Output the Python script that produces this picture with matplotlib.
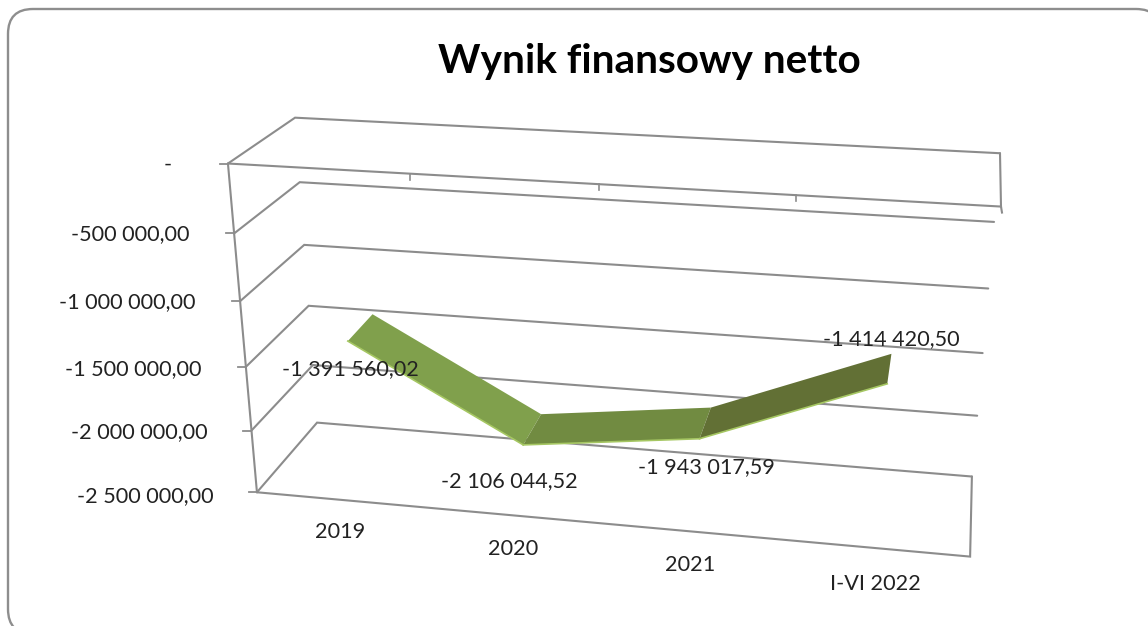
import matplotlib
matplotlib.use('Agg')
import matplotlib.pyplot as plt
from matplotlib.patches import FancyBboxPatch
import numpy as np

plt.rcParams['font.family'] = ['Lato', 'DejaVu Sans']

categories = ['2019', '2020', '2021', 'I-VI 2022']
values = [-1391560.02, -2106044.52, -1943017.59, -1414420.50]
value_labels = ['-1 391 560,02', '-2 106 044,52', '-1 943 017,59', '-1 414 420,50']
grid_values = [0, -500000, -1000000, -1500000, -2000000, -2500000]
grid_labels = ['-', '-500 000,00', '-1 000 000,00', '-1 500 000,00', '-2 000 000,00', '-2 500 000,00']
title = 'Wynik finansowy netto'

VMIN = -2500000
GREY = '#8c8c8c'
TEXT = '#222222'

# box corners on the picture, used to fit the camera: (x, value, depth) -> pixel
box_3d = [(0, 0, 0), (4, 0, 0), (0, VMIN, 0), (4, VMIN, 0),
          (0, 0, 1), (4, 0, 1), (0, VMIN, 1), (4, VMIN, 1)]
box_px = [(228, 163), (1001, 207), (257, 492), (970, 557),
          (295, 118), (1000, 153), (317, 423), (972, 476)]

def fit_camera():
    rows, rhs = [], []
    for (x, v, z), (u, w) in zip(box_3d, box_px):
        p = [x, v / 1e6, z, 1]
        rows.append(p + [0, 0, 0, 0] + [-u * c for c in p[:3]])
        rhs.append(u)
        rows.append([0, 0, 0, 0] + p + [-w * c for c in p[:3]])
        rhs.append(w)
    h = np.linalg.lstsq(np.array(rows, float), np.array(rhs, float), rcond=None)[0]
    return np.append(h, 1).reshape(3, 4)

cam = fit_camera()

def project(x, v, z):
    x, v, z = np.broadcast_arrays(np.asarray(x, float), np.asarray(v, float) / 1e6, np.asarray(z, float))
    p = np.stack([x, v, z, np.ones_like(x)])
    q = cam @ p.reshape(4, -1)
    return q[0] / q[2], q[1] / q[2]

fig = plt.figure(figsize=(11.48, 6.26), dpi=100)
ax = fig.add_axes([0, 0, 1, 1])
ax.set_xlim(0, 1148)
ax.set_ylim(626, 0)
ax.axis('off')

# frame runs past the right and bottom edge of the picture
ax.add_patch(FancyBboxPatch((8, 9), 1153, 625, boxstyle='round,pad=0,rounding_size=25',
                            fc='white', ec='#8e8e8e', lw=1.7))

def line(xs, vs, zs, lw=1.5):
    ax.plot(*project(xs, vs, zs), color=GREY, lw=lw, solid_capstyle='round', solid_joinstyle='miter')

# back wall and left wall gridlines
for g in grid_values:
    line([0, 0, 4], [g, g, g], [0, 1, 1])

line([0, 0], [0, VMIN], [0, 0])
line([0, 4, 4], [0, 0, 0], [0, 0, 1])
line([0, 4, 4], [VMIN, VMIN, VMIN], [0, 0, 1])

# right side of the top plane and its tick
rx, ry = project(4, 0, 0)
ax.plot([rx[0], rx[0] + 1], [ry[0], ry[0] + 6], color=GREY, lw=1.5)

# category ticks on the zero line
for i in range(1, 4):
    tx, ty = project(i, 0, 0)
    ax.plot([tx[0], tx[0]], [ty[0], ty[0] + 6], color=GREY, lw=1.2)

# value ticks
for g in grid_values:
    tx, ty = project(0, g, 0)
    ax.plot([tx[0] - 8, tx[0]], [ty[0], ty[0]], color=GREY, lw=1.3)

# ribbon
seg_colors = ['#80a04c', '#718b41', '#627035']
Z0, Z1 = 0.28, 0.72
xc = np.arange(len(values)) + 0.5
for i in range(len(values) - 1):
    xs = [xc[i], xc[i + 1], xc[i + 1], xc[i]]
    vs = [values[i], values[i + 1], values[i + 1], values[i]]
    zs = [Z0, Z0, Z1, Z1]
    ax.fill(*project(xs, vs, zs), color=seg_colors[i], lw=0, zorder=3)
    ax.plot(*project(xs[:2], vs[:2], zs[:2]), color='#a6c763', lw=1.2, zorder=4)

ax.text(649, 61, title, fontsize=29.2, fontweight='bold', ha='center', va='center', color='black')

label_px = [(350.5, 369), (509, 481), (706.5, 467), (891.5, 339)]
for lab, (lx, ly) in zip(value_labels, label_px):
    ax.text(lx, ly, lab, fontsize=15.6, ha='center', va='center', color=TEXT, zorder=5)

axis_px = [(168, 165), (130.5, 234), (127.5, 302), (133, 369), (139, 432), (145, 496)]
for lab, (lx, ly) in zip(grid_labels, axis_px):
    ax.text(lx, ly, lab, fontsize=15.6, ha='center', va='center', color=TEXT)

cat_px = [(340, 532), (513, 549), (690, 565), (875, 584)]
for lab, (lx, ly) in zip(categories, cat_px):
    ax.text(lx, ly, lab, fontsize=15.6, ha='center', va='center', color=TEXT)

fig.savefig('out.png', dpi=100)
